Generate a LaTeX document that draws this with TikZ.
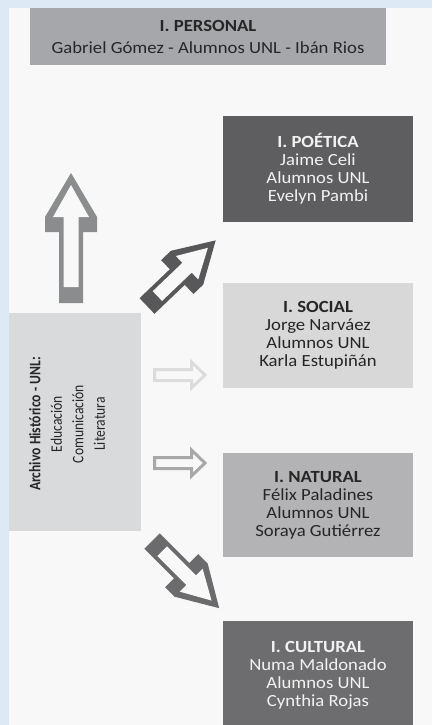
\documentclass[tikz,border=0pt]{standalone}
\usepackage{fontspec}
\setmainfont[FakeStretch=1.1]{Carlito}
\newfontfamily\condfont[FakeStretch=0.85]{Carlito}
\definecolor{bgblue}{HTML}{DDE9F5}
\definecolor{bgpage}{HTML}{F8F8F8}
\definecolor{cpers}{HTML}{A6A7AB}
\definecolor{cpoet}{HTML}{5E5E60}
\definecolor{csoc}{HTML}{D8D8D9}
\definecolor{cnat}{HTML}{B3B3B5}
\definecolor{ccult}{HTML}{6D6D6F}
\definecolor{carch}{HTML}{D9DADB}
\definecolor{cdark}{HTML}{262626}
\definecolor{clight}{HTML}{F2F2F2}
\definecolor{aup}{HTML}{8B8C8E}
\definecolor{ane}{HTML}{58585A}
\definecolor{asoc}{HTML}{DCDCDC}
\definecolor{anat}{HTML}{A8A8A8}
\definecolor{ase}{HTML}{6B6B6D}
% hollow block arrow: #1 colour, #2 tail point, #3 angle, #4 length, #5 scale
\newcommand\hollowarr[5]{%
  \begin{scope}[shift={#2}, rotate=#3]
    \fill[#1] (0,{-12*#5}) -- ({#4-59*#5},{-12*#5}) -- ({#4-59*#5},{-26*#5})
      -- ({#4-44*#5},{-26*#5}) -- (#4,0) -- ({#4-44*#5},{26*#5})
      -- ({#4-59*#5},{26*#5}) -- ({#4-59*#5},{12*#5}) -- (0,{12*#5}) -- cycle;
    \fill[bgpage] ({16*#5},{-7.5*#5}) -- ({#4-44*#5},{-7.5*#5}) -- ({#4-44*#5},{-18*#5})
      -- ({#4-12*#5},0) -- ({#4-44*#5},{18*#5}) -- ({#4-44*#5},{7.5*#5})
      -- ({16*#5},{7.5*#5}) -- cycle;
  \end{scope}}
\begin{document}
\begin{tikzpicture}[x=1pt,y=-1pt,
  box/.style={inner sep=0pt, minimum width=190pt, align=center,
    font=\fontsize{17}{18}\selectfont},
  thinarrow/.style={line width=3pt, miter limit=10, fill=bgpage}]
\useasboundingbox (0,0) rectangle (432,725);
\fill[bgblue] (0,0) rectangle (432,725);
\fill[bgpage] (9,8) rectangle (432,725);

\node[box, fill=cpers, text=cdark, minimum width=356pt, minimum height=57pt,
  font=\fontsize{17}{22}\selectfont] (personal) at (208,36.5)
  {\textbf{I. PERSONAL}\\Gabriel Gómez - Alumnos UNL - Ibán Rios};

\node[box, fill=cpoet, text=clight, minimum height=106pt] (poetica) at (318,169)
  {\textbf{I. POÉTICA}\\Jaime Celi\\Alumnos UNL\\Evelyn Pambi};
\node[box, fill=csoc, text=cdark, minimum height=105pt] (social) at (318,335.5)
  {\textbf{I. SOCIAL}\\Jorge Narváez\\Alumnos UNL\\Karla Estupiñán};
\node[box, fill=cnat, text=cdark, minimum height=104pt] (natural) at (318,505)
  {\textbf{I. NATURAL}\\Félix Paladines\\Alumnos UNL\\Soraya Gutiérrez};
\node[box, fill=ccult, text=clight, minimum height=108pt] (cultural) at (318,675)
  {\textbf{I. CULTURAL}\\Numa Maldonado\\Alumnos UNL\\Cynthia Rojas};

\node[fill=carch, inner sep=0pt, minimum width=132pt, minimum height=218pt] (archivo) at (75,422) {};
\node[rotate=90, align=center, text=cdark, inner sep=0pt,
  font=\condfont\fontsize{16}{21.5}\selectfont] (archtext) at (67,424)
  {\textbf{Archivo Histórico - UNL:}\\Educación\\Comunicación\\Literatura};

% block arrows
\coordinate (uptail) at (71,303);
\coordinate (netail) at (147,306);
\coordinate (setail) at (152,541);
\hollowarr{aup}{(uptail)}{90}{130}{1}
\hollowarr{ane}{(netail)}{43.7}{95}{0.9}
\hollowarr{ase}{(setail)}{-45}{95}{0.9}

\draw[thinarrow, draw=asoc] (154.5,369.5) -- (191.5,369.5) -- (191.5,362)
  -- (205,375) -- (191.5,388) -- (191.5,380.5) -- (154.5,380.5) -- cycle;
\draw[thinarrow, draw=anat] (154.5,457.5) -- (191.5,457.5) -- (191.5,450)
  -- (205,463) -- (191.5,476) -- (191.5,468.5) -- (154.5,468.5) -- cycle;
\end{tikzpicture}
\end{document}
